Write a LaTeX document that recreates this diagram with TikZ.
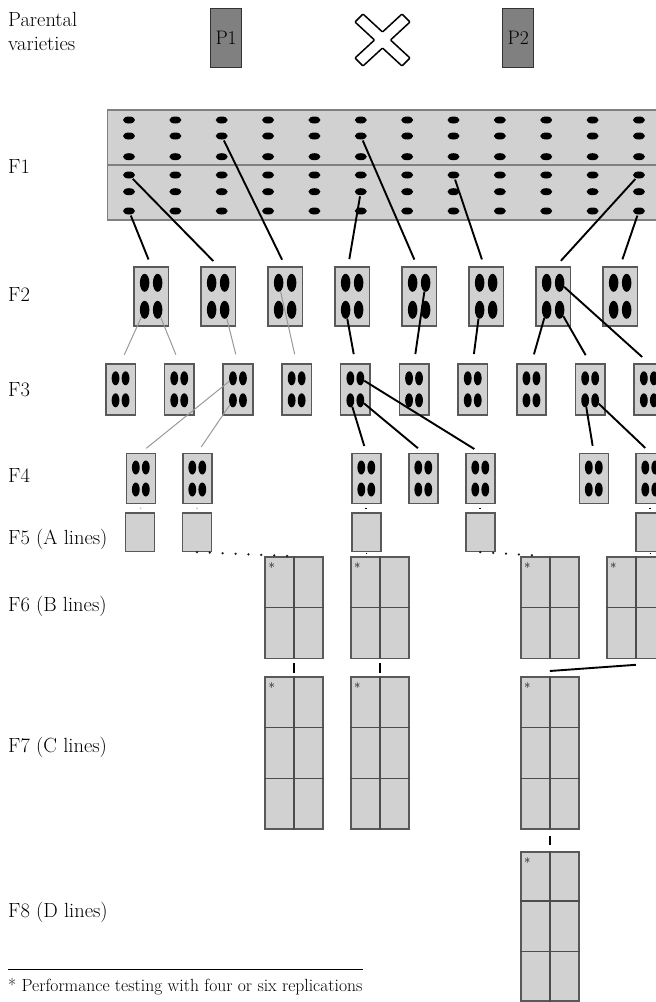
\documentclass[tikz,border=0pt]{standalone}
\usetikzlibrary{shapes.geometric,calc}

\begin{document}
\begin{tikzpicture}[x=1pt,y=-1pt,
        gen label/.style={anchor=base west,inner sep=0pt,font=\fontsize{20.5}{24}\selectfont},
        parent box/.style={rectangle,draw=black!80,fill=black!50,line width=1.2pt,minimum width=31,minimum height=59,inner sep=0pt,anchor=north west,font=\fontsize{19.5}{22}\selectfont},
        plot box/.style={rectangle,draw=black!65,fill=black!18,line width=1.6pt,inner sep=0pt,anchor=north west},
        grid line/.style={draw=black!70,line width=1.5pt},
        row seed/.style={ellipse,fill=black,inner sep=0pt,minimum width=12,minimum height=7},
        big seed/.style={ellipse,fill=black,inner sep=0pt,minimum width=9.5,minimum height=18},
        small seed/.style={ellipse,fill=black,inner sep=0pt,minimum width=7.8,minimum height=14},
        rep mark/.style={anchor=north west,inner sep=0pt,font=\fontsize{13}{13}\selectfont},
        link/.style={draw=black,line width=1.9pt},
        faint link/.style={draw=black!40,line width=1pt},
        dot trail/.style={draw=black!90,line width=2.5pt,line cap=round,dash pattern=on 0pt off 12.9pt}]

    \useasboundingbox (0,0) rectangle (656,1002);
    \clip (0,0) rectangle (656,1002);

    % Labels

    \node [gen label] (l0a) at (8,26) {Parental};
    \node [gen label] (l0b) at (8,50) {varieties};
    \node [gen label] (l1) at (8,173.5) {F1};
    \node [gen label] (l2) at (8,301.5) {F2};
    \node [gen label] (l3) at (8,396.5) {F3};
    \node [gen label] (l4) at (8,482.5) {F4};
    \node [gen label] (l5) at (8,544.5) {F5 (A lines)};
    \node [gen label] (l6) at (8,611.5) {F6 (B lines)};
    \node [gen label] (l7) at (8,752.5) {F7 (C lines)};
    \node [gen label] (l8) at (8,917.5) {F8 (D lines)};

    % Parents

    \node [parent box] (p1) at (210,7.5) {P1};
    \node [parent box] (p2) at (502,7.5) {P2};
    \draw [line width=1.5pt, fill=white, rounded corners=0.8pt, shift={(382.5,40)}]
        (0,-8) -- (19.5,-26) -- (27.5,-18) -- (8,0) -- (27.5,18) -- (19.5,26)
        -- (0,8) -- (-19.5,26) -- (-27.5,18) -- (-8,0) -- (-27.5,-18) -- (-19.5,-26) -- cycle;

    % F1

    \node [plot box, draw=black!50, minimum width=600, minimum height=109.7] (f1) at (106.7,109.3) {};
    \draw [grid line, draw=black!50] (f1.west) -- (f1.east);
    \foreach \c in {1,...,12} {
        \foreach \r/\yy in {1/120,2/136,3/156.7,4/175,5/191.7,6/211}
            \node [row seed] (f1-\c-\r) at ({129+46.36*(\c-1)},\yy) {};
    }

    % F2

    \foreach \xx [count=\i] in {133,200,267,334,401,468,535,602} {
        \node [plot box, minimum width=34.7, minimum height=59] (f2-\i) at (\xx,266) {};
        \foreach \dx/\dy/\pos in {-6.5/-13.5/a,6.5/-13.5/b,-6.5/13.5/c,6.5/13.5/d}
            \node [big seed] (f2-\i-\pos) at ($(f2-\i.center)+(\dx,\dy)$) {};
    }

    % F3

    \foreach \xx [count=\i] in {105,163.7,222.4,281.1,339.8,398.5,457.2,515.9,574.6,633.3} {
        \node [plot box, minimum width=29.5, minimum height=51] (f3-\i) at (\xx,363) {};
        \foreach \dx/\dy/\pos in {-5/-11/a,5/-11/b,-5/11/c,5/11/d}
            \node [small seed] (f3-\i-\pos) at ($(f3-\i.center)+(\dx,\dy)$) {};
    }

    % F4

    \foreach \xx [count=\i] in {125.5,182,351,408,465,578.5,635} {
        \node [plot box, minimum width=29, minimum height=50] (f4-\i) at (\xx,452.7) {};
        \foreach \dx/\dy/\pos in {-5/-11/a,5/-11/b,-5/11/c,5/11/d}
            \node [small seed] (f4-\i-\pos) at ($(f4-\i.center)+(\dx,\dy)$) {};
    }

    % F5

    \foreach \xx [count=\i] in {124.8,181.6,351,465,635}
        \node [plot box, minimum width=29, minimum height=38.5] (f5-\i) at (\xx,512) {};

    % F6, F7 and F8 plots

    \foreach \xx [count=\i] in {264.3,350,520,606} {
        \node [plot box, minimum width=58, minimum height=101.7] (f6-\i) at (\xx,556) {};
        \draw [grid line] (f6-\i.north) -- (f6-\i.south) (f6-\i.west) -- (f6-\i.east);
        \node [rep mark] (s6-\i) at ([xshift=4pt,yshift=-7pt]f6-\i.north west) {*};
    }
    \foreach \xx [count=\i] in {264.3,350,520} {
        \node [plot box, minimum width=58, minimum height=152.3] (f7-\i) at (\xx,676) {};
        \draw [grid line] (f7-\i.north) -- (f7-\i.south);
        \foreach \f in {0.3333,0.6667}
            \draw [grid line] ($(f7-\i.north west)!\f!(f7-\i.south west)$) -- ($(f7-\i.north east)!\f!(f7-\i.south east)$);
        \node [rep mark] (s7-\i) at ([xshift=4pt,yshift=-7pt]f7-\i.north west) {*};
    }
    \node [plot box, minimum width=58, minimum height=149] (f8-1) at (520,851) {};
    \draw [grid line] (f8-1.north) -- (f8-1.south);
    \foreach \f in {0.3333,0.6667}
        \draw [grid line] ($(f8-1.north west)!\f!(f8-1.south west)$) -- ($(f8-1.north east)!\f!(f8-1.south east)$);
    \node [rep mark] (s8-1) at ([xshift=4pt,yshift=-7pt]f8-1.north west) {*};

    % Selections

    \path [link, shorten <=1pt, shorten >=7pt]
        (f1-1-6) edge (f2-1.north)
        (f1-1-4) edge (f2-2.north)
        (f1-3-2) edge (f2-3.north)
        (f1-6-5) edge ([xshift=-4pt]f2-4.north)
        (f1-6-2) edge ([xshift=-2pt]f2-5.north)
        (f1-8-4) edge ([xshift=-2pt]f2-6.north)
        (f1-12-4) edge ([xshift=3pt]f2-7.north)
        (f1-12-6) edge (f2-8.north);

    \path [faint link, shorten >=9pt]
        (f2-1-c) edge (f3-1.north)
        (f2-1-d) edge (f3-2.north)
        (f2-2-d) edge (f3-3.north)
        (f2-3-a) edge (f3-4.north);
    \path [link, shorten >=9pt]
        (f2-4-c) edge (f3-5.north)
        (f2-5-b) edge (f3-6.north)
        (f2-6-c) edge (f3-7.north)
        (f2-7-c) edge (f3-8.north)
        (f2-7-d) edge (f3-9.north)
        (f2-7-b) edge (f3-10.north);

    \path [faint link, shorten >=7pt]
        (f3-3-a) edge (f4-1.north)
        (f3-3-c) edge (f4-2.north);
    \path [link, shorten >=7pt]
        (f3-5-b) edge (f4-5.north)
        (f3-5-d) edge (f4-4.north)
        (f3-5-c) edge (f4-3.north)
        (f3-9-c) edge (f4-6.north)
        (f3-9-d) edge (f4-7.north);

    \path [faint link, line width=1.8pt, shorten <=3.5pt, shorten >=3.5pt]
        (f4-1.south) edge (f5-1.north)
        (f4-2.south) edge (f5-2.north);
    \path [link, shorten <=3.5pt, shorten >=3.5pt]
        (f4-3.south) edge (f5-3.north)
        (f4-5.south) edge (f5-4.north)
        (f4-7.south) edge (f5-5.north);

    \path [dot trail]
        (f5-2.south) edge ($(f6-1.north west)!0.4!(f6-1.north east)$)
        (f5-4.south) edge ($(f6-3.north west)!0.4!(f6-3.north east)$);
    \path [link, line width=1.6pt, shorten <=1pt, shorten >=2pt]
        (f5-3.south) edge (f5-3.south |- f6-2.north)
        (f5-5.south) edge (f5-5.south |- f6-4.north);

    \path [link, shorten <=4pt, shorten >=3pt]
        (f6-1.south) edge (f7-1.north)
        (f6-2.south) edge (f7-2.north);
    \path [link]
        ([yshift=-5.5pt]f6-4.south) edge ([yshift=5pt]f7-3.north);
    \path [link, shorten <=6.5pt, shorten >=6.5pt]
        (f7-3.south) edge (f8-1.north);

    % Footnote

    \node [anchor=base west, inner sep=0pt, font=\fontsize{17.6}{20}\selectfont] (note) at (8,991) {* Performance testing with four or six replications};
    \draw [line width=1pt] ([yshift=8pt]note.north west) -- ([yshift=8pt]note.north east);
\end{tikzpicture}
\end{document}
